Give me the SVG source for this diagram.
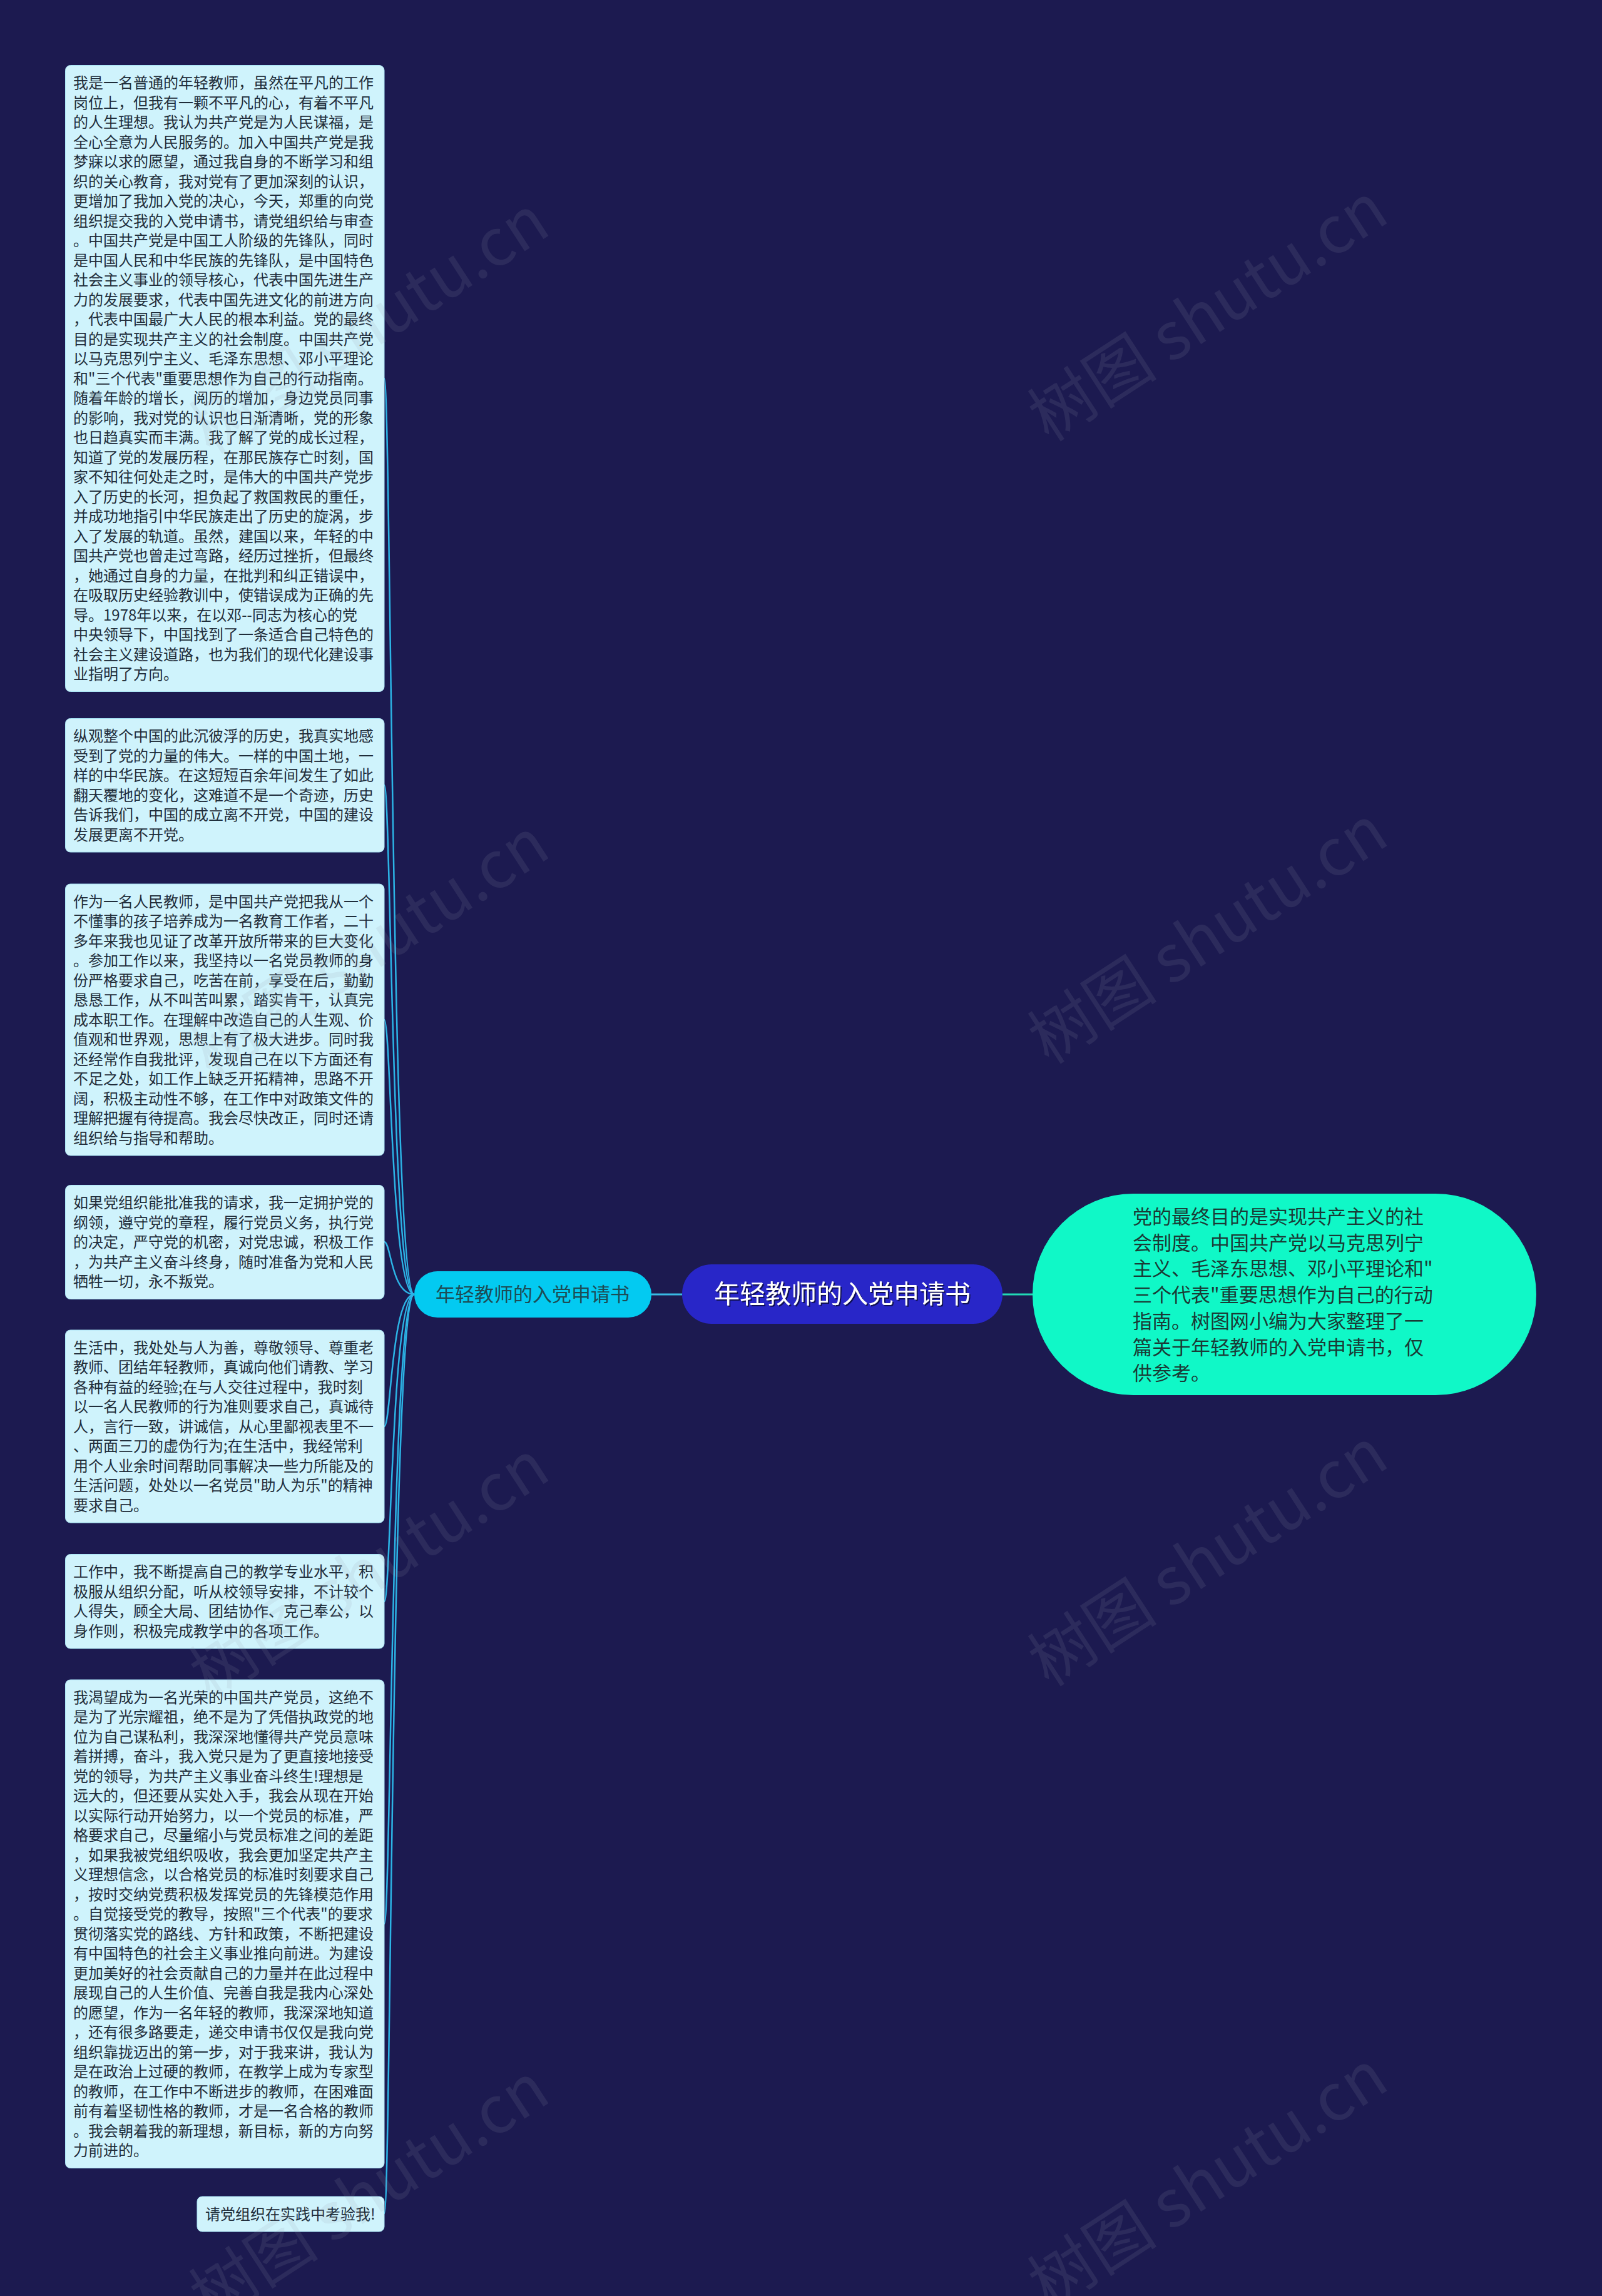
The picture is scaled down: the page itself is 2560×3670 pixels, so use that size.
<svg xmlns="http://www.w3.org/2000/svg" width="2560" height="3670" viewBox="0 0 2560 3670">
<style>
.leaf rect{fill:#cff3fc;stroke:#a9e4f5;stroke-width:1}
.leaf text{font-family:"Noto Sans CJK SC","Noto Sans",sans-serif;font-size:24px;fill:#1f2d3a}
.conn path{fill:none;stroke:#2cb4e6;stroke-width:2.5}
.wm{font-family:"Noto Sans CJK SC","Noto Sans",sans-serif;font-size:104px;fill:#9a9ab0;opacity:0.13}
</style>
<defs>
<filter id="sh" x="-10%" y="-10%" width="120%" height="130%"><feDropShadow dx="2" dy="2" stdDeviation="0.5" flood-color="#10104a" flood-opacity="0.9"/></filter>
</defs>
<rect width="2560" height="3670" fill="#1c1a50"/>
<g class="conn" id="connectors">
<path d="M1602 2069 L1650 2069" style="stroke:#21d9b6;stroke-width:3"/>
<path d="M1041 2069 L1090 2069" style="stroke:#39b9e4;stroke-width:3"/>
<path d="M662 2069 C625 2069 625 605 614 605"/>
<path d="M662 2069 C625 2069 625 1255 614 1255"/>
<path d="M662 2069 C625 2069 625 1630 614 1630"/>
<path d="M662 2069 C625 2069 625 1985 614 1985"/>
<path d="M662 2069 C625 2069 625 2280 614 2280"/>
<path d="M662 2069 C625 2069 625 2560 614 2560"/>
<path d="M662 2069 C625 2069 625 3075 614 3075"/>
<path d="M662 2069 C625 2069 625 3538 614 3538"/>
</g>
<g id="root">
<rect x="1090" y="2021" width="512" height="95" rx="47" fill="#2826c8"/>
<text x="1346" y="2083" text-anchor="middle" filter="url(#sh)" style="font-family:'Noto Sans CJK SC','Noto Sans',sans-serif;font-size:41px;fill:#ffffff">年轻教师的入党申请书</text>
</g>
<g id="summary">
<rect x="1650" y="1908" width="805" height="322" rx="161" fill="#10f8c7"/>
<text style="font-family:'Noto Sans CJK SC','Noto Sans',sans-serif;font-size:31px;fill:#1a3a35">
<tspan x="1810" y="1956">党的最终目的是实现共产主义的社</tspan>
<tspan x="1810" dy="41.7">会制度。中国共产党以马克思列宁</tspan>
<tspan x="1810" dy="41.7">主义、毛泽东思想、邓小平理论和"</tspan>
<tspan x="1810" dy="41.7">三个代表"重要思想作为自己的行动</tspan>
<tspan x="1810" dy="41.7">指南。树图网小编为大家整理了一</tspan>
<tspan x="1810" dy="41.7">篇关于年轻教师的入党申请书，仅</tspan>
<tspan x="1810" dy="41.7">供参考。</tspan>
</text>
</g>
<g id="branch">
<rect x="662" y="2032" width="379" height="74" rx="37" fill="#03caf1"/>
<text x="851" y="2080" text-anchor="middle" style="font-family:'Noto Sans CJK SC','Noto Sans',sans-serif;font-size:31px;fill:#1d4c55">年轻教师的入党申请书</text>
</g>
<g class="leaf" id="leaf1">
<rect x="104.5" y="104.5" width="509.5" height="1001" rx="8"/>
<text><tspan x="117" y="141">我是一名普通的年轻教师，虽然在平凡的工作</tspan><tspan x="117" dy="31.5">岗位上，但我有一颗不平凡的心，有着不平凡</tspan><tspan x="117" dy="31.5">的人生理想。我认为共产党是为人民谋福，是</tspan><tspan x="117" dy="31.5">全心全意为人民服务的。加入中国共产党是我</tspan><tspan x="117" dy="31.5">梦寐以求的愿望，通过我自身的不断学习和组</tspan><tspan x="117" dy="31.5">织的关心教育，我对党有了更加深刻的认识，</tspan><tspan x="117" dy="31.5">更增加了我加入党的决心，今天，郑重的向党</tspan><tspan x="117" dy="31.5">组织提交我的入党申请书，请党组织给与审查</tspan><tspan x="117" dy="31.5">。中国共产党是中国工人阶级的先锋队，同时</tspan><tspan x="117" dy="31.5">是中国人民和中华民族的先锋队，是中国特色</tspan><tspan x="117" dy="31.5">社会主义事业的领导核心，代表中国先进生产</tspan><tspan x="117" dy="31.5">力的发展要求，代表中国先进文化的前进方向</tspan><tspan x="117" dy="31.5">，代表中国最广大人民的根本利益。党的最终</tspan><tspan x="117" dy="31.5">目的是实现共产主义的社会制度。中国共产党</tspan><tspan x="117" dy="31.5">以马克思列宁主义、毛泽东思想、邓小平理论</tspan><tspan x="117" dy="31.5">和"三个代表"重要思想作为自己的行动指南。</tspan><tspan x="117" dy="31.5">随着年龄的增长，阅历的增加，身边党员同事</tspan><tspan x="117" dy="31.5">的影响，我对党的认识也日渐清晰，党的形象</tspan><tspan x="117" dy="31.5">也日趋真实而丰满。我了解了党的成长过程，</tspan><tspan x="117" dy="31.5">知道了党的发展历程，在那民族存亡时刻，国</tspan><tspan x="117" dy="31.5">家不知往何处走之时，是伟大的中国共产党步</tspan><tspan x="117" dy="31.5">入了历史的长河，担负起了救国救民的重任，</tspan><tspan x="117" dy="31.5">并成功地指引中华民族走出了历史的旋涡，步</tspan><tspan x="117" dy="31.5">入了发展的轨道。虽然，建国以来，年轻的中</tspan><tspan x="117" dy="31.5">国共产党也曾走过弯路，经历过挫折，但最终</tspan><tspan x="117" dy="31.5">，她通过自身的力量，在批判和纠正错误中，</tspan><tspan x="117" dy="31.5">在吸取历史经验教训中，使错误成为正确的先</tspan><tspan x="117" dy="31.5">导。1978年以来，在以邓--同志为核心的党</tspan><tspan x="117" dy="31.5">中央领导下，中国找到了一条适合自己特色的</tspan><tspan x="117" dy="31.5">社会主义建设道路，也为我们的现代化建设事</tspan><tspan x="117" dy="31.5">业指明了方向。</tspan></text>
</g>
<g class="leaf" id="leaf2">
<rect x="104.5" y="1148.5" width="509.5" height="213.5" rx="8"/>
<text><tspan x="117" y="1185">纵观整个中国的此沉彼浮的历史，我真实地感</tspan><tspan x="117" dy="31.5">受到了党的力量的伟大。一样的中国土地，一</tspan><tspan x="117" dy="31.5">样的中华民族。在这短短百余年间发生了如此</tspan><tspan x="117" dy="31.5">翻天覆地的变化，这难道不是一个奇迹，历史</tspan><tspan x="117" dy="31.5">告诉我们，中国的成立离不开党，中国的建设</tspan><tspan x="117" dy="31.5">发展更离不开党。</tspan></text>
</g>
<g class="leaf" id="leaf3">
<rect x="104.5" y="1413" width="509.5" height="434" rx="8"/>
<text><tspan x="117" y="1449.5">作为一名人民教师，是中国共产党把我从一个</tspan><tspan x="117" dy="31.5">不懂事的孩子培养成为一名教育工作者，二十</tspan><tspan x="117" dy="31.5">多年来我也见证了改革开放所带来的巨大变化</tspan><tspan x="117" dy="31.5">。参加工作以来，我坚持以一名党员教师的身</tspan><tspan x="117" dy="31.5">份严格要求自己，吃苦在前，享受在后，勤勤</tspan><tspan x="117" dy="31.5">恳恳工作，从不叫苦叫累，踏实肯干，认真完</tspan><tspan x="117" dy="31.5">成本职工作。在理解中改造自己的人生观、价</tspan><tspan x="117" dy="31.5">值观和世界观，思想上有了极大进步。同时我</tspan><tspan x="117" dy="31.5">还经常作自我批评，发现自己在以下方面还有</tspan><tspan x="117" dy="31.5">不足之处，如工作上缺乏开拓精神，思路不开</tspan><tspan x="117" dy="31.5">阔，积极主动性不够，在工作中对政策文件的</tspan><tspan x="117" dy="31.5">理解把握有待提高。我会尽快改正，同时还请</tspan><tspan x="117" dy="31.5">组织给与指导和帮助。</tspan></text>
</g>
<g class="leaf" id="leaf4">
<rect x="104.5" y="1894.5" width="509.5" height="182" rx="8"/>
<text><tspan x="117" y="1931">如果党组织能批准我的请求，我一定拥护党的</tspan><tspan x="117" dy="31.5">纲领，遵守党的章程，履行党员义务，执行党</tspan><tspan x="117" dy="31.5">的决定，严守党的机密，对党忠诚，积极工作</tspan><tspan x="117" dy="31.5">，为共产主义奋斗终身，随时准备为党和人民</tspan><tspan x="117" dy="31.5">牺牲一切，永不叛党。</tspan></text>
</g>
<g class="leaf" id="leaf5">
<rect x="104.5" y="2126" width="509.5" height="308" rx="8"/>
<text><tspan x="117" y="2162.5">生活中，我处处与人为善，尊敬领导、尊重老</tspan><tspan x="117" dy="31.5">教师、团结年轻教师，真诚向他们请教、学习</tspan><tspan x="117" dy="31.5">各种有益的经验;在与人交往过程中，我时刻</tspan><tspan x="117" dy="31.5">以一名人民教师的行为准则要求自己，真诚待</tspan><tspan x="117" dy="31.5">人，言行一致，讲诚信，从心里鄙视表里不一</tspan><tspan x="117" dy="31.5">、两面三刀的虚伪行为;在生活中，我经常利</tspan><tspan x="117" dy="31.5">用个人业余时间帮助同事解决一些力所能及的</tspan><tspan x="117" dy="31.5">生活问题，处处以一名党员"助人为乐"的精神</tspan><tspan x="117" dy="31.5">要求自己。</tspan></text>
</g>
<g class="leaf" id="leaf6">
<rect x="104.5" y="2484.5" width="509.5" height="150.5" rx="8"/>
<text><tspan x="117" y="2521">工作中，我不断提高自己的教学专业水平，积</tspan><tspan x="117" dy="31.5">极服从组织分配，听从校领导安排，不计较个</tspan><tspan x="117" dy="31.5">人得失，顾全大局、团结协作、克己奉公，以</tspan><tspan x="117" dy="31.5">身作则，积极完成教学中的各项工作。</tspan></text>
</g>
<g class="leaf" id="leaf7">
<rect x="104.5" y="2685" width="509.5" height="780.5" rx="8"/>
<text><tspan x="117" y="2721.5">我渴望成为一名光荣的中国共产党员，这绝不</tspan><tspan x="117" dy="31.5">是为了光宗耀祖，绝不是为了凭借执政党的地</tspan><tspan x="117" dy="31.5">位为自己谋私利，我深深地懂得共产党员意味</tspan><tspan x="117" dy="31.5">着拼搏，奋斗，我入党只是为了更直接地接受</tspan><tspan x="117" dy="31.5">党的领导，为共产主义事业奋斗终生!理想是</tspan><tspan x="117" dy="31.5">远大的，但还要从实处入手，我会从现在开始</tspan><tspan x="117" dy="31.5">以实际行动开始努力，以一个党员的标准，严</tspan><tspan x="117" dy="31.5">格要求自己，尽量缩小与党员标准之间的差距</tspan><tspan x="117" dy="31.5">，如果我被党组织吸收，我会更加坚定共产主</tspan><tspan x="117" dy="31.5">义理想信念，以合格党员的标准时刻要求自己</tspan><tspan x="117" dy="31.5">，按时交纳党费积极发挥党员的先锋模范作用</tspan><tspan x="117" dy="31.5">。自觉接受党的教导，按照"三个代表"的要求</tspan><tspan x="117" dy="31.5">贯彻落实党的路线、方针和政策，不断把建设</tspan><tspan x="117" dy="31.5">有中国特色的社会主义事业推向前进。为建设</tspan><tspan x="117" dy="31.5">更加美好的社会贡献自己的力量并在此过程中</tspan><tspan x="117" dy="31.5">展现自己的人生价值、完善自我是我内心深处</tspan><tspan x="117" dy="31.5">的愿望，作为一名年轻的教师，我深深地知道</tspan><tspan x="117" dy="31.5">，还有很多路要走，递交申请书仅仅是我向党</tspan><tspan x="117" dy="31.5">组织靠拢迈出的第一步，对于我来讲，我认为</tspan><tspan x="117" dy="31.5">是在政治上过硬的教师，在教学上成为专家型</tspan><tspan x="117" dy="31.5">的教师，在工作中不断进步的教师，在困难面</tspan><tspan x="117" dy="31.5">前有着坚韧性格的教师，才是一名合格的教师</tspan><tspan x="117" dy="31.5">。我会朝着我的新理想，新目标，新的方向努</tspan><tspan x="117" dy="31.5">力前进的。</tspan></text>
</g>
<g class="leaf" id="leaf8">
<rect x="315" y="3511" width="299" height="56" rx="8"/>
<text><tspan x="328" y="3547.5">请党组织在实践中考验我!</tspan></text>
</g>
<g id="watermarks">
<text class="wm" x="610" y="550" text-anchor="middle" transform="rotate(-33 610 550)">树图 shutu.cn</text>
<text class="wm" x="610" y="1545" text-anchor="middle" transform="rotate(-33 610 1545)">树图 shutu.cn</text>
<text class="wm" x="610" y="2540" text-anchor="middle" transform="rotate(-33 610 2540)">树图 shutu.cn</text>
<text class="wm" x="610" y="3535" text-anchor="middle" transform="rotate(-33 610 3535)">树图 shutu.cn</text>
<text class="wm" x="1950" y="530" text-anchor="middle" transform="rotate(-33 1950 530)">树图 shutu.cn</text>
<text class="wm" x="1950" y="1525" text-anchor="middle" transform="rotate(-33 1950 1525)">树图 shutu.cn</text>
<text class="wm" x="1950" y="2520" text-anchor="middle" transform="rotate(-33 1950 2520)">树图 shutu.cn</text>
<text class="wm" x="1950" y="3515" text-anchor="middle" transform="rotate(-33 1950 3515)">树图 shutu.cn</text>
</g>
</svg>
